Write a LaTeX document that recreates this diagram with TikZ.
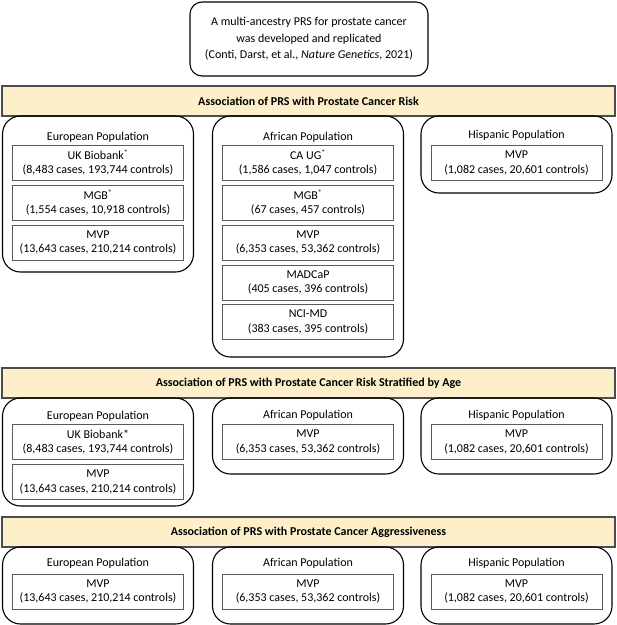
\documentclass[tikz,border=0pt]{standalone}
\usepackage{fontspec}
\setmainfont{Carlito}
\definecolor{bannerfill}{HTML}{FDEFC9}
\definecolor{boxline}{HTML}{5A5A5A}
\newcommand{\fs}{\fontsize{12}{14.5}\selectfont}
\begin{document}
\begin{tikzpicture}[x=1pt,y=-1pt,
  grp/.style={draw=black, line width=1.1pt, rounded corners=18pt, minimum width=191pt, inner sep=0pt},
  cohort/.style={draw=boxline, line width=0.9pt, minimum width=171pt, minimum height=35pt, align=center, font=\fs, inner sep=0pt},
  banner/.style={draw=black!70, line width=1.4pt, fill=bannerfill, minimum width=613pt, minimum height=30pt, font=\bfseries\fs, inner sep=0pt},
  poplabel/.style={font=\fs, inner sep=0pt},
  headbox/.style={draw=black, line width=1.1pt, rounded corners=12pt, minimum width=238pt, minimum height=74pt, align=center, font=\fontsize{12}{16.5}\selectfont, inner sep=0pt}
]
\useasboundingbox (0,0) rectangle (617,625);

% header
\node[headbox] (head) at (309,39) {A multi-ancestry PRS for prostate cancer\\was developed and replicated\\(Conti, Darst, et al., \textit{Nature Genetics}, 2021)};

% ---------- section 1 ----------
\node[banner] (b1) at (308.5,101) {Association of PRS with Prostate Cancer Risk};

\node[grp, minimum height=156pt] (e1) at (98,194) {};
\node[poplabel] (e1t) at (98,137) {European Population};
\node[cohort] (e1a) at (98,162.5) {UK Biobank\textsuperscript{*}\\(8,483 cases, 193,744 controls)};
\node[cohort] (e1b) at (98,202.5) {MGB\textsuperscript{*}\\(1,554 cases, 10,918 controls)};
\node[cohort] (e1c) at (98,242.5) {MVP\\(13,643 cases, 210,214 controls)};

\node[grp, minimum height=241pt] (a1) at (308,236.5) {};
\node[poplabel] (a1t) at (308,137) {African Population};
\node[cohort] (a1a) at (308,162.5) {CA UG\textsuperscript{*}\\(1,586 cases, 1,047 controls)};
\node[cohort] (a1b) at (308,202.5) {MGB\textsuperscript{*}\\(67 cases, 457 controls)};
\node[cohort] (a1c) at (308,242.5) {MVP\\(6,353 cases, 53,362 controls)};
\node[cohort] (a1d) at (308,282.5) {MADCaP\\(405 cases, 396 controls)};
\node[cohort] (a1e) at (308,322) {NCI-MD\\(383 cases, 395 controls)};

\node[grp, minimum height=77pt] (h1) at (516.5,154.5) {};
\node[poplabel] (h1t) at (516.5,135) {Hispanic Population};
\node[cohort] (h1a) at (516.5,163) {MVP\\(1,082 cases, 20,601 controls)};

% ---------- section 2 ----------
\node[banner] (b2) at (308.5,383) {Association of PRS with Prostate Cancer Risk Stratified by Age};

\node[grp, minimum height=108pt] (e2) at (98,452) {};
\node[poplabel] (e2t) at (98,416) {European Population};
\node[cohort] (e2a) at (98,442) {UK Biobank*\\(8,483 cases, 193,744 controls)};
\node[cohort] (e2b) at (98,482) {MVP\\(13,643 cases, 210,214 controls)};

\node[grp, minimum height=76pt] (a2) at (308,436) {};
\node[poplabel] (a2t) at (308,415) {African Population};
\node[cohort] (a2a) at (308,442) {MVP\\(6,353 cases, 53,362 controls)};

\node[grp, minimum height=76pt] (h2) at (516.5,436) {};
\node[poplabel] (h2t) at (516.5,415) {Hispanic Population};
\node[cohort] (h2a) at (516.5,442) {MVP\\(1,082 cases, 20,601 controls)};

% ---------- section 3 ----------
\node[banner] (b3) at (308.5,532) {Association of PRS with Prostate Cancer Aggressiveness};

\node[grp, minimum height=77pt] (e3) at (98,585.5) {};
\node[poplabel] (e3t) at (98,563) {European Population};
\node[cohort] (e3a) at (98,591.5) {MVP\\(13,643 cases, 210,214 controls)};

\node[grp, minimum height=77pt] (a3) at (308,585.5) {};
\node[poplabel] (a3t) at (308,563) {African Population};
\node[cohort] (a3a) at (308,591.5) {MVP\\(6,353 cases, 53,362 controls)};

\node[grp, minimum height=77pt] (h3) at (516.5,585.5) {};
\node[poplabel] (h3t) at (516.5,563) {Hispanic Population};
\node[cohort] (h3a) at (516.5,591.5) {MVP\\(1,082 cases, 20,601 controls)};
\end{tikzpicture}
\end{document}
